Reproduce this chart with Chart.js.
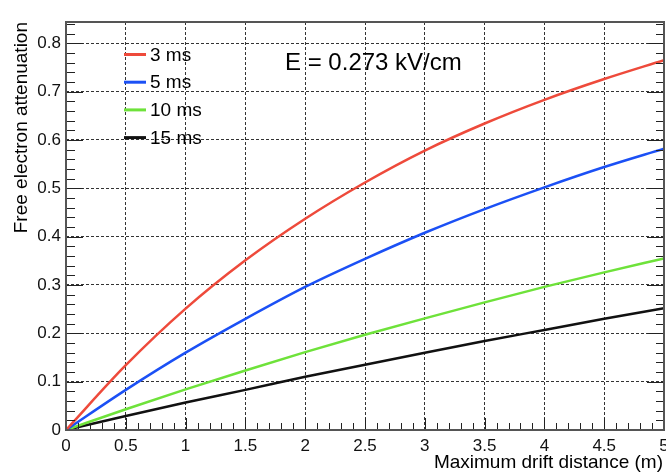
<!DOCTYPE html>
<html>
<head>
<meta charset="utf-8">
<title>Free electron attenuation</title>
<script src="https://cdn.jsdelivr.net/npm/chart.js@4/dist/chart.umd.min.js"></script>
<style>
  html, body { margin: 0; padding: 0; background: #fff; }
  canvas { display: block; }
</style>
</head>
<body>
<canvas id="attenuationChart" width="666" height="475"></canvas>
<script>
// maximum drift distance (m)
const distance = [0, 0.5, 1, 1.5, 2, 2.5, 3, 3.5, 4, 4.5, 5]
// electron lifetimes
const lifetimes = ['3 ms', '5 ms', '10 ms', '15 ms']
// attenuation for each lifetime
const att3ms  = [0, 0.134, 0.251, 0.351, 0.437, 0.512, 0.578, 0.634, 0.683, 0.726, 0.765]
const att5ms  = [0, 0.083, 0.160, 0.230, 0.296, 0.354, 0.408, 0.457, 0.502, 0.544, 0.582]
const att10ms = [0, 0.043, 0.084, 0.123, 0.161, 0.197, 0.231, 0.264, 0.296, 0.326, 0.355]
const att15ms = [0, 0.029, 0.057, 0.083, 0.110, 0.135, 0.160, 0.184, 0.207, 0.230, 0.252]
// axis ticks
const xTicks = [0, 0.5, 1, 1.5, 2, 2.5, 3, 3.5, 4, 4.5, 5]
const yTicks = [0, 0.1, 0.2, 0.3, 0.4, 0.5, 0.6, 0.7, 0.8]
const fieldLabel = 'E = 0.273 kV/cm'

const colors = ['#ee4a3b', '#1b50f5', '#6ee23a', '#111111']
const series = [att3ms, att5ms, att10ms, att15ms]
const FONT = '"Liberation Sans", Arial, Helvetica, sans-serif'

function toPoints(values) {
    return values.map((v, i) => ({ x: distance[i], y: v }))
}

// frame + ROOT style inward ticks (major & minor)
const frameTicks = {
    id: 'frameTicks',
    afterDatasetsDraw(chart) {
        const { ctx, chartArea: a, scales: { x, y } } = chart
        ctx.save()
        ctx.strokeStyle = '#222'
        ctx.lineWidth = 1
        ctx.beginPath()
        for (let i = 0; i <= 50; i++) {
            const px = Math.round(x.getPixelForValue(i / 10)) + 0.5
            const len = i % 5 === 0 ? 12 : 7
            ctx.moveTo(px, a.bottom)
            ctx.lineTo(px, a.bottom - len)
        }
        for (let i = 0; i * 0.02 <= y.max + 1e-9; i++) {
            const py = Math.round(y.getPixelForValue(i * 0.02)) + 0.5
            const major = i % 5 === 0
            ctx.moveTo(a.left, py)
            ctx.lineTo(a.left + (major ? 17 : 9), py)
            ctx.moveTo(a.right, py)
            ctx.lineTo(a.right - (major ? 17 : 8), py)
        }
        ctx.stroke()

        ctx.strokeStyle = '#555'
        ctx.lineWidth = 2
        ctx.strokeRect(a.left, a.top, a.right - a.left, a.bottom - a.top)
        ctx.restore()
    }
}

// legend, field label and axis titles
const annotations = {
    id: 'annotations',
    afterDraw(chart) {
        const { ctx, chartArea: a } = chart
        ctx.save()
        ctx.textBaseline = 'middle'
        ctx.textAlign = 'left'
        ctx.font = '19px ' + FONT
        chart.data.datasets.forEach((ds, i) => {
            const ly = 54.5 + i * 27.7
            ctx.strokeStyle = ds.borderColor
            ctx.lineWidth = 3
            ctx.beginPath()
            ctx.moveTo(124, ly)
            ctx.lineTo(146, ly)
            ctx.stroke()
            ctx.fillStyle = '#000'
            ctx.fillText(ds.label, 150, ly + 1)
        })

        ctx.font = '24px ' + FONT
        ctx.fillText(fieldLabel, 285, 63)

        ctx.font = '19px ' + FONT
        ctx.textBaseline = 'alphabetic'
        ctx.textAlign = 'right'
        ctx.fillText('Maximum drift distance (m)', 663, 468)

        ctx.translate(27, a.top)
        ctx.rotate(-Math.PI / 2)
        ctx.fillText('Free electron attenuation', 0, 0)
        ctx.restore()
    }
}

const context = document.getElementById('attenuationChart')
const chartData = {
    datasets: lifetimes.map((label, i) => ({
        label: label,
        data: toPoints(series[i]),
        borderColor: colors[i],
        backgroundColor: colors[i],
        borderWidth: 2.5,
        pointRadius: 0,
        fill: false,
        cubicInterpolationMode: 'monotone'
    }))
}

const config = {
    type: 'line',
    data: chartData,
    options: {
        responsive: false,
        devicePixelRatio: 1,
        animation: false,
        layout: { padding: { top: 22, right: 2, left: 0, bottom: 0 } },
        plugins: {
            legend: { display: false },
            tooltip: { enabled: false }
        },
        scales: {
            x: {
                type: 'linear',
                min: 0,
                max: 5,
                afterBuildTicks: scale => { scale.ticks = xTicks.map(v => ({ value: v })) },
                afterFit: scale => {
                    scale.height = 45
                    scale.paddingLeft = 0
                    scale.paddingRight = 0
                },
                grid: { color: '#333', lineWidth: 1, drawTicks: false },
                border: { display: false, dash: [3, 2] },
                ticks: {
                    padding: 6,
                    maxRotation: 0,
                    autoSkip: false,
                    color: '#111',
                    font: { family: FONT, size: 17 },
                    callback: value => String(value)
                }
            },
            y: {
                min: 0,
                max: 0.844,
                afterBuildTicks: scale => { scale.ticks = yTicks.map(v => ({ value: v })) },
                afterFit: scale => {
                    scale.width = 66
                    scale.paddingTop = 0
                    scale.paddingBottom = 0
                },
                grid: { color: '#333', lineWidth: 1, drawTicks: false },
                border: { display: false, dash: [3, 2] },
                ticks: {
                    padding: 5,
                    autoSkip: false,
                    color: '#111',
                    font: { family: FONT, size: 17 },
                    callback: value => String(value)
                }
            }
        }
    },
    plugins: [frameTicks, annotations]
}

const myChart = new Chart(context, config)
</script>
</body>
</html>
